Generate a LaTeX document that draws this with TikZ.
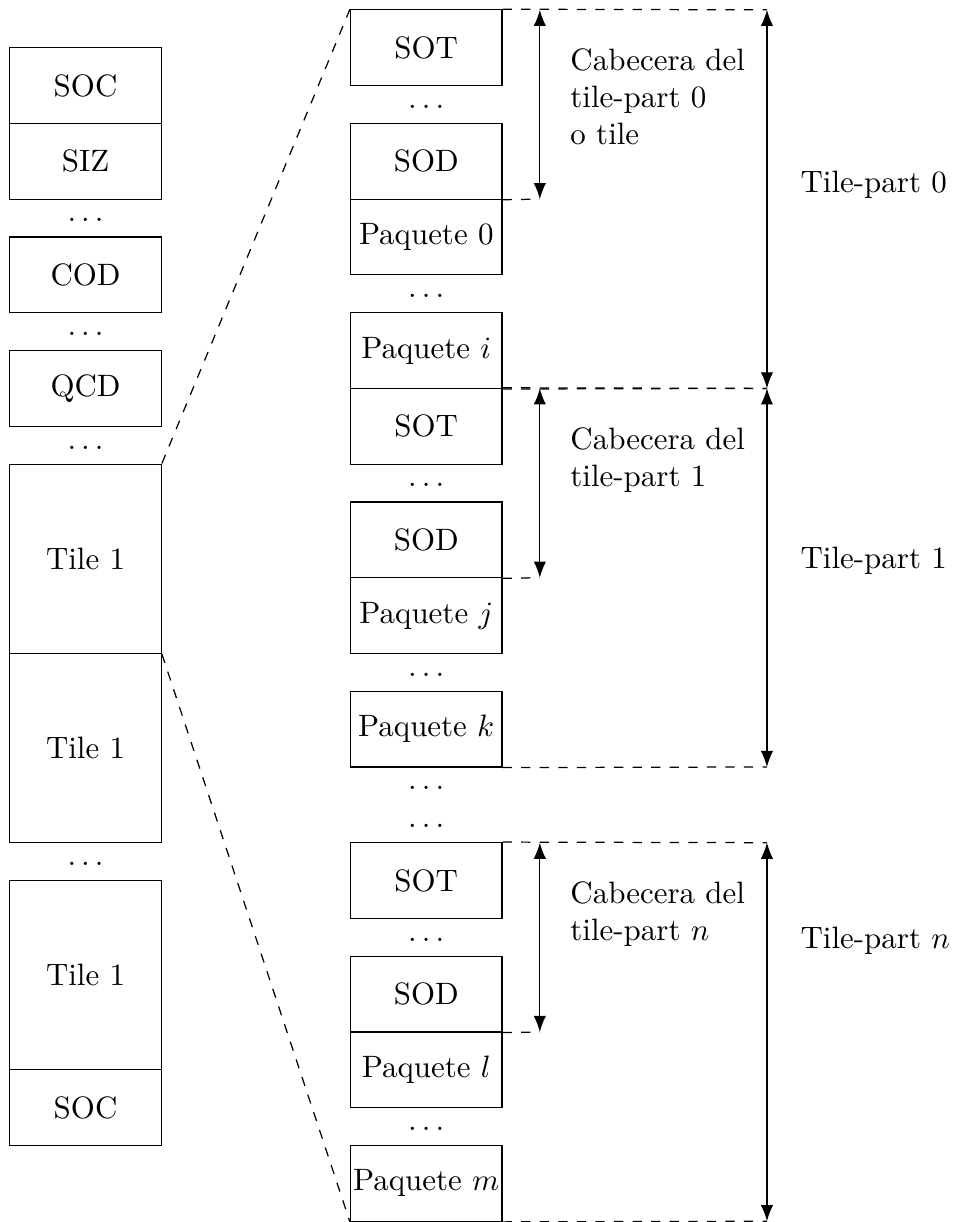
\documentclass[tikz,border=0pt]{standalone}
\usepackage{amsmath}
\usetikzlibrary{arrows.meta}

\tikzset{
    blk/.style={draw, minimum width=1.72cm, minimum height=0.86cm, inner sep=0pt},
    tileblk/.style={blk, minimum height=2.15cm},
}

\begin{document}
\begin{tikzpicture}[x=0.86cm,y=-0.86cm,>={Latex[length=5.2pt,width=4pt]}]
            \useasboundingbox (-0.13,-0.13) rectangle (12.46,16.01);

            % codestream
            \foreach \y/\n/\t in {1/soc/SOC,2/siz/SIZ,3.5/cod/COD,5/qcd/QCD,14.5/eoc/SOC} {
                \node[blk] (\n) at (1,\y) {\t};
            }
            \foreach \y/\n in {7.25/tileA,9.75/tileB,12.75/tileC} {
                \node[tileblk] (\n) at (1,\y) {Tile 1};
            }
            \foreach \y/\n in {2.75/la,4.25/lb,5.75/lc,11.25/ld} {
                \node (\n) at (1,\y+0.03) {$\ldots$};
            }

            % tile-parts
            \foreach \y/\n/\t in {0.5/sot0/SOT,2/sod0/SOD,3/p0/Paquete 0,4.5/pi/Paquete $i$,
                    5.5/sot1/SOT,7/sod1/SOD,8/pj/Paquete $j$,9.5/pk/Paquete $k$,
                    11.5/sotn/SOT,13/sodn/SOD,14/pl/Paquete $l$,15.5/pm/Paquete $m$} {
                \node[blk] (\n) at (5.5,\y) {\t};
            }
            \foreach \y/\n in {1.25/ra,3.75/rb,6.25/rc,8.75/rd,10.25/re,10.75/rf,12.25/rg,14.75/rh} {
                \node (\n) at (5.5,\y+0.03) {$\ldots$};
            }

            \draw[dashed] (tileA.north east) -- (sot0.north west);
            \draw[dashed] (tileA.south east) -- (pm.south west);

            % cotas
            \foreach \k/\a/\b/\c/\top/\bot in {0/sot0/sod0/pi/0/5,1/sot1/sod1/pk/5/10,n/sotn/sodn/pm/11/16} {
                \coordinate (ct\k) at (7,\top);
                \coordinate (cb\k) at (7,\top+2.5);
                \coordinate (lt\k) at (10,\top);
                \coordinate (lb\k) at (10,\bot);
                \draw[dashed] (\a.north east) -- (lt\k);
                \draw[dashed] (\b.south east) -- (cb\k);
                \draw[dashed] (\c.south east) -- (lb\k);
                \draw[<->] (ct\k) -- (cb\k);
                \draw[<->] (lt\k) -- (lb\k);
            }

            \node[anchor=north west, align=left] (cab0) at (7.26,0.37) {Cabecera del\\tile-part 0\\o tile};
            \node[anchor=north west, align=left] (cab1) at (7.26,5.37) {Cabecera del\\tile-part 1};
            \node[anchor=north west, align=left] (cabn) at (7.26,11.37) {Cabecera del\\tile-part $n$};

            \node[anchor=west] (tp0) at (10.3,2.31) {Tile-part 0};
            \node[anchor=west] (tp1) at (10.3,7.27) {Tile-part 1};
            \node[anchor=west] (tpn) at (10.3,12.29) {Tile-part $n$};
        \end{tikzpicture}
\end{document}
